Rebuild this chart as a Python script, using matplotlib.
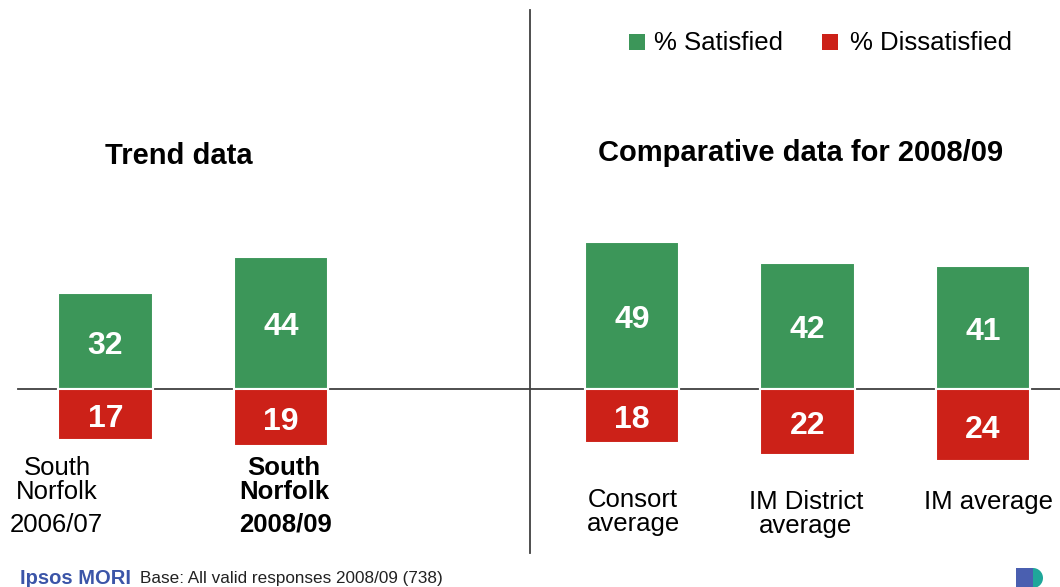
import matplotlib
matplotlib.use('Agg')
import matplotlib.pyplot as plt
import matplotlib.transforms as mtransforms
from matplotlib.patches import Rectangle, Wedge

plt.rcParams['font.family'] = ['Liberation Sans', 'DejaVu Sans']

# data
positions = [0, 1, 3, 4, 5]
satisfied = [32, 44, 49, 42, 41]
dissatisfied = [17, 19, 18, 22, 24]
labels = ['South\nNorfolk', 'South\nNorfolk', 'Consort\naverage', 'IM District\naverage', 'IM average']
label_years = ['2006/07', '2008/09', '', '', '']
green = '#3c9659'
red = '#cc2118'

W, H = 1060, 587
fig = plt.figure(figsize=(W / 100, H / 100), dpi=100)
ax = fig.add_axes([0, 0, 1, 1])
# 175.5 px per category, first bar centred at 105.5 px, zero line at 389 px, 3 px per point
ax.set_xlim((0 - 105.5) / 175.5, (W - 105.5) / 175.5)
ax.set_ylim((389 - H) / 3, 389 / 3)
ax.axis('off')

# pixel transform (origin top-left)
px = mtransforms.Affine2D().scale(1 / W, -1 / H).translate(0, 1) + fig.transFigure

# baseline and divider
ax.plot([-0.5, 5.5], [0, 0], color='#404040', lw=1.3, zorder=1)
ax.plot([2.42, 2.42], [(389 - 10) / 3, (389 - 553) / 3], color='#404040', lw=1.3, zorder=1)

ax.bar(positions, satisfied, width=0.54, color=green, edgecolor='white', linewidth=1.5, zorder=2)
ax.bar(positions, [-d for d in dissatisfied], width=0.54, color=red, edgecolor='white', linewidth=1.5, zorder=2)

for x, s, d in zip(positions, satisfied, dissatisfied):
    ax.text(x, s / 2 - 1.5, str(s), ha='center', va='center', color='white', fontsize=23, fontweight='bold', zorder=3)
    ax.text(x, -d / 2 - 1.5, str(d), ha='center', va='center', color='white', fontsize=23, fontweight='bold', zorder=3)

# category labels
fs = 18.5
ax.text(57, 480, labels[0], transform=px, ha='center', va='center', fontsize=fs, linespacing=1.02)
ax.text(56, 525, label_years[0], transform=px, ha='center', va='center', fontsize=fs)
ax.text(284, 480, labels[1], transform=px, ha='center', va='center', fontsize=fs, fontweight='bold', linespacing=1.02)
ax.text(285, 525, label_years[1], transform=px, ha='center', va='center', fontsize=fs, fontweight='bold')
ax.text(633, 512, labels[2], transform=px, ha='center', va='center', fontsize=fs, linespacing=1.02)
ax.text(806, 514, labels[3], transform=px, ha='center', va='center', fontsize=fs, linespacing=1.02)
ax.text(989, 502, labels[4], transform=px, ha='center', va='center', fontsize=fs)

# section titles
ax.text(179, 156, 'Trend data', transform=px, ha='center', va='center', fontsize=21, fontweight='bold')
ax.text(801, 153, 'Comparative data for 2008/09', transform=px, ha='center', va='center', fontsize=21, fontweight='bold')

# legend
ax.add_patch(Rectangle((629, 34), 16, 16, transform=px, facecolor=green, edgecolor='none'))
ax.text(654, 43, '% Satisfied', transform=px, ha='left', va='center', fontsize=fs)
ax.add_patch(Rectangle((822, 34), 16, 16, transform=px, facecolor=red, edgecolor='none'))
ax.text(850, 43, '% Dissatisfied', transform=px, ha='left', va='center', fontsize=fs)

# footer
ax.text(20, 578, 'Ipsos MORI', transform=px, ha='left', va='center', fontsize=14.5, fontweight='bold', color='#3b55a8')
ax.text(140, 578, 'Base: All valid responses 2008/09 (738)', transform=px, ha='left', va='center', fontsize=12.3, color='#222222')
ax.add_patch(Rectangle((1016, 568), 17, 19, transform=px, facecolor='#4a5fb0', edgecolor='none'))
ax.add_patch(Wedge((1033, 578), 10, -90, 90, transform=px, facecolor='#1fa79a', edgecolor='none'))

fig.savefig('out.png', dpi=100)
